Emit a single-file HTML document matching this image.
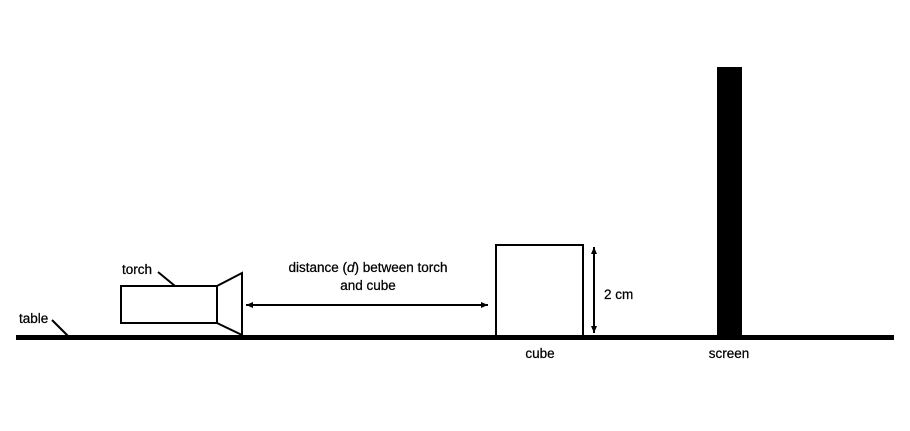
<!DOCTYPE html>
<html><head><meta charset="utf-8"><style>
body{margin:0;background:#fff;}
svg text{font-family:"Liberation Sans",sans-serif;font-size:13.5px;fill:#000;stroke:#000;stroke-width:0.25px;}
</style></head><body>
<svg width="910" height="426">
<defs><marker id="ah" markerWidth="8" markerHeight="8" refX="7" refY="4" orient="auto-start-reverse" markerUnits="userSpaceOnUse"><path d="M0,1 L7,4 L0,7 Z" fill="#000"/></marker></defs>
<rect x="16" y="335" width="878" height="5" fill="#000"/>
<line x1="52" y1="320" x2="68" y2="336" stroke="#000" stroke-width="2"/>
<text x="19" y="323">table</text>
<rect x="121" y="286" width="96" height="37" fill="#fff" stroke="#000" stroke-width="2"/>
<polygon points="217,286 242,273 242,335 217,323" fill="#fff" stroke="#000" stroke-width="2"/>
<line x1="158" y1="272" x2="175" y2="286" stroke="#000" stroke-width="2"/>
<text x="122" y="274">torch</text>
<line x1="246" y1="305" x2="488" y2="305" stroke="#000" stroke-width="2" marker-start="url(#ah)" marker-end="url(#ah)"/>
<text x="368" y="272" text-anchor="middle">distance (<tspan font-style="italic">d</tspan>) between torch</text>
<text x="368" y="290" text-anchor="middle">and cube</text>
<rect x="496" y="245" width="87" height="91" fill="#fff" stroke="#000" stroke-width="2"/>
<text x="540" y="358" text-anchor="middle">cube</text>
<line x1="594" y1="247" x2="594" y2="333" stroke="#000" stroke-width="2" marker-start="url(#ah)" marker-end="url(#ah)"/>
<text x="604" y="299">2 cm</text>
<rect x="717" y="67" width="25" height="270" fill="#000"/>
<text x="729" y="358" text-anchor="middle">screen</text>
</svg>
</body></html>
